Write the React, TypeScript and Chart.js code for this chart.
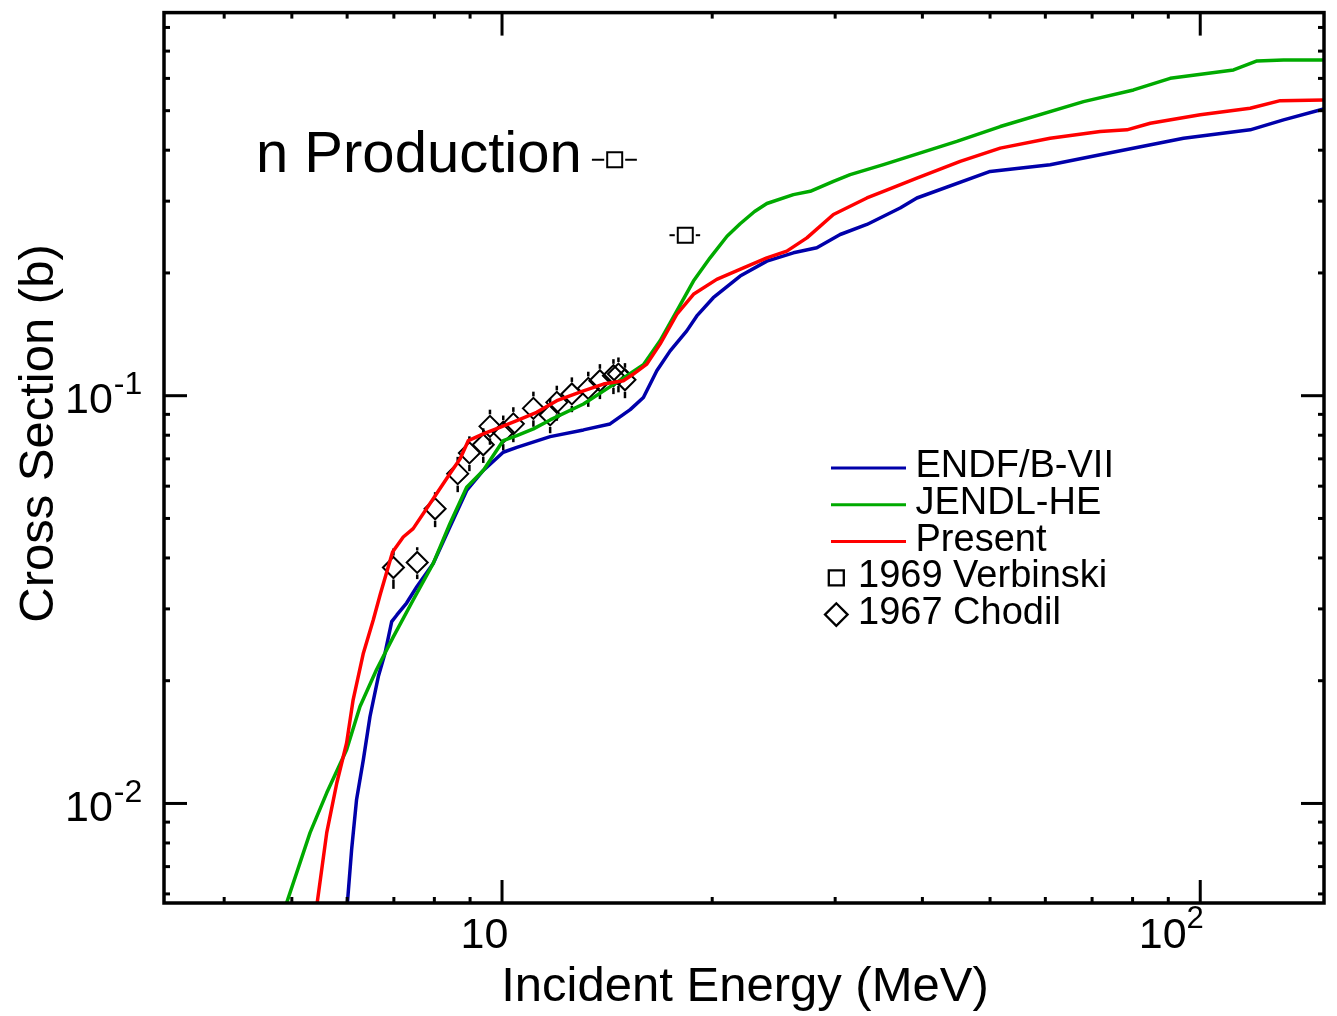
import React, { useEffect, useRef } from 'react';
import { Chart, registerables } from 'chart.js';

Chart.register(...registerables);

const FONT = '"Liberation Sans", Arial, Helvetica, sans-serif';

// ---------- data (Incident energy in MeV, cross section in barns) ----------
const endfEnergy = [5.98, 6.09, 6.19, 6.33, 6.47, 6.65, 6.80, 6.95, 7.07, 7.30, 7.55, 7.97, 8.42, 8.90, 9.40, 10.04, 10.5, 11.72, 13.08, 14.28, 15.26, 15.94, 16.66, 17.41, 18.39, 19.01, 20.07, 21.93, 23.95, 26.14, 28.24, 30.5, 33.31, 37.17, 39.28, 50.02, 60.96, 71.9, 94.65, 117.9, 131.6, 150.2];
const endfXS = [0.0052, 0.00772, 0.01023, 0.01281, 0.01634, 0.02047, 0.02339, 0.02791, 0.02899, 0.03101, 0.03399, 0.03878, 0.04764, 0.05856, 0.06556, 0.07266, 0.07472, 0.07937, 0.08243, 0.08526, 0.09242, 0.0990, 0.1151, 0.1288, 0.1442, 0.1569, 0.1739, 0.1965, 0.2138, 0.2241, 0.2305, 0.2485, 0.263, 0.2887, 0.3054, 0.3549, 0.3686, 0.3899, 0.4281, 0.4488, 0.4748, 0.5050];

const jendlEnergy = [4.88, 5.31, 5.61, 5.99, 6.26, 6.61, 6.99, 7.46, 7.97, 8.42, 8.90, 9.40, 10.04, 10.5, 11.09, 11.72, 13.08, 14.6, 15.94, 16.84, 17.8, 18.8, 19.86, 21.0, 21.93, 23.0, 23.95, 26.14, 27.63, 29.83, 31.52, 35.18, 44.81, 51.71, 68.05, 80.25, 90.57, 111.6, 120.6, 131.6, 150.2];
const jendlXS = [0.0055, 0.008481, 0.01062, 0.01355, 0.01729, 0.02127, 0.02565, 0.03154, 0.03878, 0.04856, 0.05966, 0.06556, 0.07762, 0.07983, 0.08291, 0.08721, 0.09544, 0.1078, 0.1191, 0.1363, 0.1614, 0.1910, 0.2178, 0.2460, 0.2640, 0.2830, 0.2960, 0.3113, 0.3171, 0.3355, 0.3484, 0.3686, 0.4203, 0.4572, 0.5263, 0.5622, 0.6003, 0.6294, 0.6621, 0.6658, 0.6658];

const presentEnergy = [5.42, 5.61, 5.80, 5.99, 6.12, 6.33, 6.54, 6.69, 6.97, 7.22, 7.46, 7.97, 8.42, 8.71, 8.95, 9.40, 9.93, 10.5, 11.21, 11.98, 13.08, 13.97, 14.92, 15.42, 16.12, 16.84, 17.8, 18.8, 20.3, 22.17, 23.95, 25.58, 27.33, 29.83, 33.31, 35.18, 39.28, 45.31, 51.71, 60.96, 71.9, 78.52, 84.81, 100, 117.9, 130.2, 150.2];
const presentXS = [0.0055, 0.008481, 0.01124, 0.01407, 0.01796, 0.02336, 0.02818, 0.0325, 0.04139, 0.04502, 0.04721, 0.05587, 0.06436, 0.07001, 0.07762, 0.0806, 0.08366, 0.08687, 0.09103, 0.09723, 0.1028, 0.1068, 0.1088, 0.113, 0.1195, 0.1338, 0.1584, 0.1773, 0.1929, 0.2059, 0.2178, 0.2262, 0.2438, 0.2782, 0.3054, 0.3171, 0.3418, 0.3755, 0.4047, 0.4281, 0.4445, 0.4488, 0.4658, 0.4884, 0.5068, 0.5292, 0.5313];

const verbinskiEnergy = [14.5, 18.3];
const verbinskiXS = [0.379, 0.2475];
const verbinskiELow = [13.45, 17.37];
const verbinskiEHigh = [15.6, 19.22];

const chodilEnergy = [6.99, 7.56, 8.02, 8.64, 8.98, 9.40, 9.61, 10.04, 10.38, 11.09, 11.72, 11.98, 12.59, 13.29, 13.81, 14.44, 14.68, 15.0];
const chodilXS = [0.0379, 0.0390, 0.0528, 0.0644, 0.0724, 0.0758, 0.0841, 0.0814, 0.0853, 0.0931, 0.0897, 0.0963, 0.1010, 0.1042, 0.1088, 0.1119, 0.1130, 0.1094];
const chodilErr = [0.0043, 0.0035, 0.0052, 0.0064, 0.0071, 0.0074, 0.0083, 0.0080, 0.0084, 0.0092, 0.0088, 0.0095, 0.0099, 0.0103, 0.0107, 0.0110, 0.0111, 0.0108];

// ---------- axes ----------
const xMin = 3.28;
const xMax = 150.4;
const yMin = 0.0057;
const yMax = 0.87;
const xMajorTicks = [10, 100];
const xMajorBase = ['10', '10'];
const xMajorExp = ['', '2'];
const xMinorTicks = [4, 5, 6, 7, 8, 9, 20, 30, 40, 50, 60, 70, 80, 90];
const yMajorTicks = [0.1, 0.01];
const yMajorBase = ['10', '10'];
const yMajorExp = ['-1', '-2'];
const yMinorTicks = [0.006, 0.007, 0.008, 0.009, 0.02, 0.03, 0.04, 0.05, 0.06, 0.07, 0.08, 0.09, 0.2, 0.3, 0.4, 0.5, 0.6, 0.7, 0.8];

const X_TITLE = 'Incident Energy (MeV)';
const Y_TITLE = 'Cross Section (b)';
const ANNOTATION = 'n Production';

const toPoints = (xs: number[], ys: number[]) => xs.map((x, i) => ({ x, y: ys[i] }));

function line(ctx: any, x1: number, y1: number, x2: number, y2: number) {
  ctx.beginPath();
  ctx.moveTo(x1, y1);
  ctx.lineTo(x2, y2);
  ctx.stroke();
}

const decorPlugin = {
  id: 'decor',
  beforeDatasetsDraw(chart: any) {
    const ctx = chart.ctx;
    const xs = chart.scales.x;
    const ys = chart.scales.y;
    ctx.save();
    ctx.strokeStyle = '#000';
    ctx.lineCap = 'butt';
    // Chodil vertical error bars
    ctx.lineWidth = 2.5;
    const r = 12;
    chodilEnergy.forEach((e, i) => {
      const px = xs.getPixelForValue(e);
      const py = ys.getPixelForValue(chodilXS[i]);
      const top = ys.getPixelForValue(chodilXS[i] + chodilErr[i]);
      const bot = ys.getPixelForValue(chodilXS[i] - chodilErr[i]);
      if (py - top > r) line(ctx, px, top, px, py - r);
      if (bot - py > r) line(ctx, px, py + r, px, bot);
    });
    // Verbinski horizontal error bars
    ctx.lineWidth = 2;
    const h = 10.5;
    verbinskiEnergy.forEach((e, i) => {
      const px = xs.getPixelForValue(e);
      const py = ys.getPixelForValue(verbinskiXS[i]);
      const lo = xs.getPixelForValue(verbinskiELow[i]);
      const hi = xs.getPixelForValue(verbinskiEHigh[i]);
      line(ctx, lo, py, px - h, py);
      line(ctx, px + h, py, hi, py);
    });
    ctx.restore();
  },
  afterDatasetsDraw(chart: any) {
    const ctx = chart.ctx;
    const xs = chart.scales.x;
    const ys = chart.scales.y;
    const { left, right, top, bottom } = chart.chartArea;
    ctx.save();
    ctx.strokeStyle = '#000';
    ctx.fillStyle = '#000';
    ctx.lineWidth = 3.5;
    ctx.lineJoin = 'miter';
    ctx.strokeRect(left, top, right - left, bottom - top);

    const MAJ = 23;
    const MIN = 6;
    ctx.lineWidth = 3;
    xMajorTicks.forEach((v) => {
      const px = xs.getPixelForValue(v);
      line(ctx, px, bottom, px, bottom - MAJ);
      line(ctx, px, top, px, top + MAJ);
    });
    xMinorTicks.forEach((v) => {
      const px = xs.getPixelForValue(v);
      line(ctx, px, bottom, px, bottom - MIN);
      line(ctx, px, top, px, top + MIN);
    });
    yMajorTicks.forEach((v) => {
      const py = ys.getPixelForValue(v);
      line(ctx, left, py, left + MAJ, py);
      line(ctx, right, py, right - MAJ, py);
    });
    yMinorTicks.forEach((v) => {
      const py = ys.getPixelForValue(v);
      line(ctx, left, py, left + MIN, py);
      line(ctx, right, py, right - MIN, py);
    });

    // tick labels
    ctx.textAlign = 'left';
    ctx.textBaseline = 'alphabetic';
    xMajorTicks.forEach((v, i) => {
      const px = xs.getPixelForValue(v);
      const x0 = px - (xMajorExp[i] ? 61.5 : 41.5);
      ctx.font = `43px ${FONT}`;
      ctx.fillText(xMajorBase[i], x0, bottom + 45);
      const w = ctx.measureText(xMajorBase[i]).width;
      if (xMajorExp[i]) {
        ctx.font = `31px ${FONT}`;
        ctx.fillText(xMajorExp[i], x0 + w, bottom + 25);
      }
    });
    yMajorTicks.forEach((v, i) => {
      const py = ys.getPixelForValue(v);
      const x0 = left - 99;
      ctx.font = `43px ${FONT}`;
      ctx.fillText(yMajorBase[i], x0, py + 17.5);
      const w = ctx.measureText(yMajorBase[i]).width;
      ctx.font = `32px ${FONT}`;
      ctx.fillText(yMajorExp[i], x0 + w + 1, py - 1.5);
    });

    // axis titles
    ctx.font = `49px ${FONT}`;
    ctx.textAlign = 'center';
    ctx.fillText(X_TITLE, (left + right) / 2 + 1, 1001);
    ctx.save();
    ctx.translate(53, 433.5);
    ctx.rotate(-Math.PI / 2);
    ctx.fillText(Y_TITLE, 0, 0);
    ctx.restore();

    // annotation
    ctx.textAlign = 'left';
    ctx.font = `58px ${FONT}`;
    ctx.fillText(ANNOTATION, 256, 172);

    // legend
    ctx.font = `38px ${FONT}`;
    const baseY = 477;
    const step = 36.8;
    chart.data.datasets.forEach((ds: any, i: number) => {
      const by = baseY + i * step;
      if (ds.showLine !== false) {
        ctx.strokeStyle = ds.borderColor;
        ctx.lineWidth = 3;
        line(ctx, 831, by - 9, 906, by - 9);
        ctx.fillText(ds.label, 915.5, by);
      } else {
        ctx.strokeStyle = '#000';
        ctx.lineWidth = 2.3;
        const cx = 836.3;
        const cy = by - 9.6;
        ctx.beginPath();
        if (ds.pointStyle === 'rect') {
          ctx.rect(cx - 7.5, cy - 7.5, 15, 15);
        } else {
          const rr = 11.3;
          ctx.moveTo(cx - rr, cy);
          ctx.lineTo(cx, cy - rr);
          ctx.lineTo(cx + rr, cy);
          ctx.lineTo(cx, cy + rr);
          ctx.closePath();
        }
        ctx.stroke();
        ctx.fillText(ds.label, 858, by);
      }
    });
    ctx.restore();
  },
};

export default function App() {
  const canvasRef = useRef<HTMLCanvasElement | null>(null);

  useEffect(() => {
    const canvas = canvasRef.current;
    if (!canvas) return;
    const lineDs = (label: string, xs: number[], ys: number[], color: string, order: number) => ({
      label,
      data: toPoints(xs, ys),
      borderColor: color,
      backgroundColor: color,
      borderWidth: 3.5,
      pointRadius: 0,
      pointHoverRadius: 0,
      tension: 0,
      borderJoinStyle: 'round',
      showLine: true,
      fill: false,
      order,
    });
    const chart = new Chart(canvas, {
      type: 'line',
      data: {
        datasets: [
          lineDs('ENDF/B-VII', endfEnergy, endfXS, '#0000aa', 2),
          lineDs('JENDL-HE', jendlEnergy, jendlXS, '#00aa00', 1),
          lineDs('Present', presentEnergy, presentXS, '#ff0000', 0),
          {
            label: '1969 Verbinski',
            data: toPoints(verbinskiEnergy, verbinskiXS),
            showLine: false,
            pointStyle: 'rect',
            pointRadius: 10.6,
            pointBorderWidth: 2,
            pointBorderColor: '#000',
            pointBackgroundColor: 'rgba(0,0,0,0)',
            borderColor: '#000',
            backgroundColor: 'rgba(0,0,0,0)',
            order: 3,
          } as any,
          {
            label: '1967 Chodil',
            data: toPoints(chodilEnergy, chodilXS),
            showLine: false,
            pointStyle: 'rectRot',
            pointRadius: 10.5,
            pointBorderWidth: 2,
            pointBorderColor: '#000',
            pointBackgroundColor: 'rgba(0,0,0,0)',
            borderColor: '#000',
            backgroundColor: 'rgba(0,0,0,0)',
            order: 4,
          } as any,
        ],
      },
      options: {
        responsive: false,
        animation: false,
        devicePixelRatio: 1,
        parsing: true,
        layout: { padding: { left: 164, right: 13, top: 10, bottom: 113 } },
        plugins: {
          legend: { display: false },
          tooltip: { enabled: false },
          title: { display: false },
        },
        events: [],
        scales: {
          x: { type: 'logarithmic', min: xMin, max: xMax, display: false },
          y: { type: 'logarithmic', min: yMin, max: yMax, display: false },
        },
      } as any,
      plugins: [decorPlugin],
    });
    return () => chart.destroy();
  }, []);

  return (
    <div style={{ position: 'fixed', left: 0, top: 0, width: 1337, height: 1016, background: '#ffffff' }}>
      <canvas ref={canvasRef} width={1337} height={1016} style={{ display: 'block', width: 1337, height: 1016 }} />
    </div>
  );
}
